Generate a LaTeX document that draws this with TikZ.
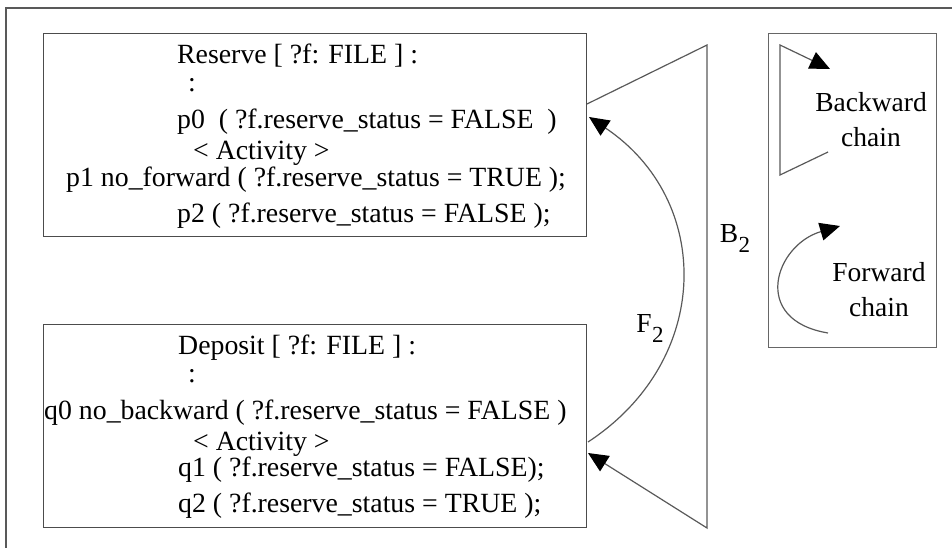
\documentclass[tikz,border=0pt]{standalone}
\usepackage{fontspec}
\setmainfont{Liberation Serif}
\usetikzlibrary{arrows.meta,positioning}

\newcommand{\subtwo}[1]{#1\kern0.5pt\raisebox{-10pt}{\fontsize{23}{23}\selectfont 2}}

\begin{document}
\begin{tikzpicture}[x=1pt,y=-1pt,>={Triangle[length=20pt,width=18pt,color=black]},
         box/.style={draw=black!70,line width=1.3pt,minimum width=543pt,
            minimum height=203pt,anchor=north west,inner sep=0pt},
         line/.style={draw=black!65,line width=1.2pt},
         txt/.style={anchor=base west,inner sep=0pt,font=\fontsize{27.8}{30}\selectfont},
         lbl/.style={inner sep=0pt,align=center,font=\fontsize{27.5}{35}\selectfont}]
   \useasboundingbox (0,0) rectangle (952,548);
   \draw[line] (6,548) -- (6,8) -- (952,8);

   \node[box] (reserve) at (43,33) {};
   \node[box] (deposit) at (43,324) {};
   \node[box,draw=black!60,line width=1.2pt,minimum width=168pt,minimum height=314pt]
      (legend) at (768,33) {};

   \node[txt] (rhead) at (177,64) {Reserve [ ?f: FILE ] :};
   \node[txt] (rdots) at (188,92) {:};
   \node[txt] (p0) at (177,129) {p0\ \ ( ?f.reserve\_status = FALSE\ \ )};
   \node[txt] (ract) at (193,160) {< Activity >};
   \node[txt] (p1) at (66,186) {p1 no\_forward ( ?f.reserve\_status = TRUE );};
   \node[txt] (p2) at (177,222) {p2 ( ?f.reserve\_status = FALSE );};

   \node[txt] (dhead) at (178,354) {Deposit [ ?f: FILE ] :};
   \node[txt] (ddots) at (188,382) {:};
   \node[txt] (q0) at (44,419) {q0 no\_backward ( ?f.reserve\_status = FALSE )};
   \node[txt] (dact) at (193,450) {< Activity >};
   \node[txt] (q1) at (178,476) {q1 ( ?f.reserve\_status = FALSE);};
   \node[txt] (q2) at (178,512) {q2 ( ?f.reserve\_status = TRUE );};

   \coordinate (bstart) at (587,104);
   \coordinate (btop) at (707,45);
   \coordinate (bbot) at (707,528);
   \coordinate (bend) at (588,453);
   \coordinate (fstart) at (588,442);
   \coordinate (fend) at (589,117);
   \draw[line,->] (bstart) -- (btop) -- (bbot) -- (bend);
   \draw[line,->] (fstart) .. controls (713,360) and (713,200) .. (fend);
   \node[lbl] (b2) at (735,238) {\subtwo{B}};
   \node[lbl] (f2) at (650,328) {\subtwo{F}};

   \coordinate (kstart) at (828,152);
   \coordinate (kcorner) at (780,175);
   \coordinate (ktop) at (780,45);
   \coordinate (kend) at (830,69);
   \draw[line,->] (kstart) -- (kcorner) -- (ktop) -- (kend);
   \node[lbl] (bwd) at (871,120) {Backward\\chain};

   \coordinate (wstart) at (828,333);
   \coordinate (wend) at (840,226);
   \draw[line,->] (wstart) .. controls (750,320) and (775,245) .. (wend);
   \node[lbl] (fwd) at (879,290) {Forward\\chain};
\end{tikzpicture}
\end{document}
